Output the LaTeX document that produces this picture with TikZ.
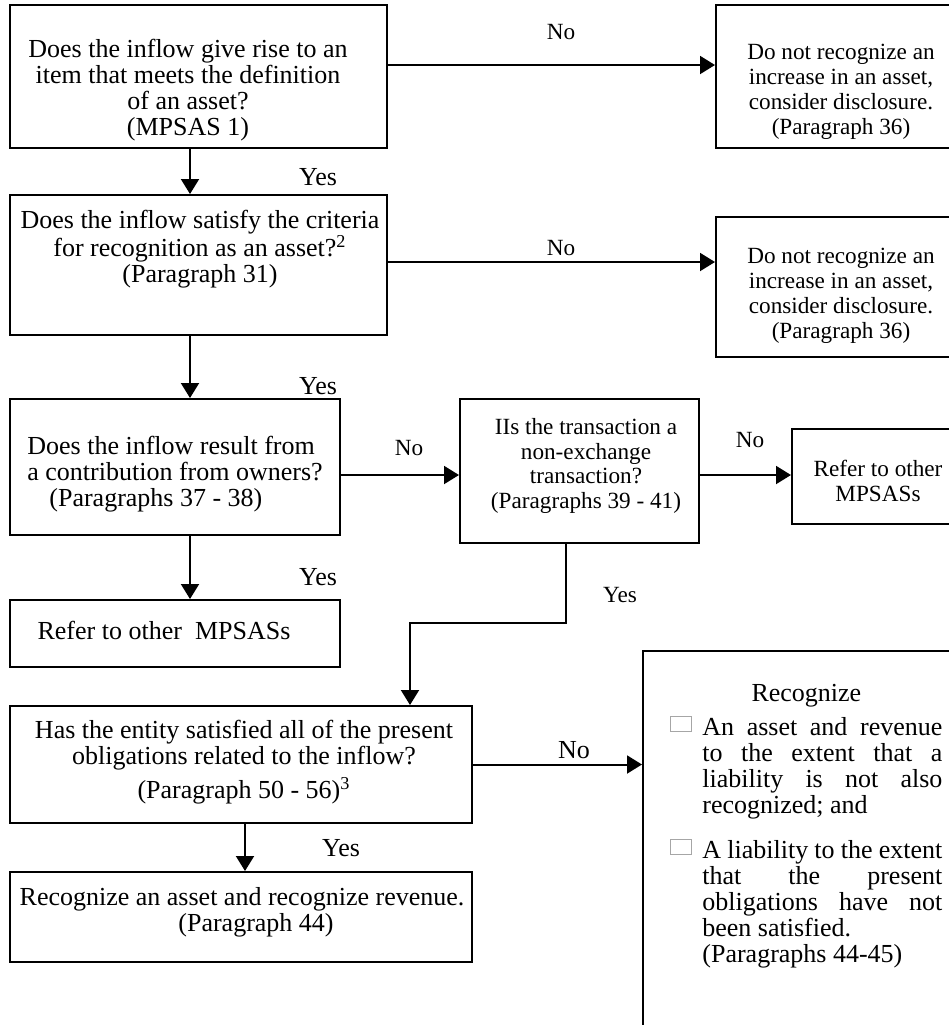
\documentclass[tikz,border=0pt]{standalone}
\usepackage{fontspec}
\setmainfont{Liberation Serif}
\usetikzlibrary{arrows.meta}

\newcommand{\bigtxt}{\fontsize{13}{13}\selectfont}
\newcommand{\smtxt}{\fontsize{11.6}{12.4}\selectfont}
\newcommand{\chkbox}{\raisebox{2.5pt}{\textcolor{gray!70}{\setlength{\fboxrule}{0.5pt}\setlength{\fboxsep}{0pt}\fbox{\rule{0pt}{7pt}\hspace{10pt}}}}}

\tikzset{
  box/.style={draw, rectangle, line width=1pt, inner sep=0pt},
  txt/.style={inner sep=0pt, align=center, font=\bigtxt},
  txts/.style={inner sep=0pt, align=center, font=\smtxt},
  lbl/.style={inner sep=0pt, font=\bigtxt},
  lbls/.style={inner sep=0pt, font=\smtxt},
  flow/.style={->, line width=1pt, >={Triangle[length=7.5pt,width=9pt]}}
}

\begin{document}
\begin{tikzpicture}[x=0.5pt, y=-0.5pt]
\useasboundingbox (0,0) rectangle (949,1025);
\clip (0,0) rectangle (949,1025);

% question boxes
\node[box, minimum width=188.5pt, minimum height=71.5pt] (qA) at (198.5,76.5) {};
\node[box, minimum width=188.5pt, minimum height=70pt] (qB) at (198.5,265) {};
\node[box, minimum width=165pt, minimum height=68pt] (qC) at (175,467) {};
\node[box, minimum width=119.5pt, minimum height=72pt] (qD) at (579.5,471) {};
\node[box, minimum width=165pt, minimum height=33.5pt] (qF) at (175,633.5) {};
\node[box, minimum width=231pt, minimum height=58.5pt] (qG) at (241,764.5) {};
\node[box, minimum width=231pt, minimum height=45pt] (qH) at (241,917) {};
% result boxes on the right
\node[box, minimum width=119.5pt, minimum height=71.5pt] (rA) at (835.5,76.5) {};
\node[box, minimum width=119.5pt, minimum height=70pt] (rB) at (835.5,287) {};
\node[box, minimum width=81.5pt, minimum height=47.5pt] (rE) at (873.5,476.5) {};
\node[box, minimum width=158.5pt, minimum height=194.5pt] (rRec) at (801.5,845.5) {};

% texts
\node[txt] (qA-t) at (188,90) {Does the inflow give rise to an\\ item that meets the definition\\ of an asset?\\ (MPSAS 1)};
\node[txt] (qB-t) at (200,249) {Does the inflow satisfy the criteria\\ for recognition as an asset?\textsuperscript{2}\\ (Paragraph 31)};
\node[txt, anchor=west, align=left] (qC-t) at (27,474) {Does the inflow result from\\ a contribution from owners?\\ \hspace*{11pt}(Paragraphs 37 - 38)};
\node[txts] (qD-t) at (586,466) {IIs the transaction a\\ non-exchange\\ transaction?\\ (Paragraphs 39 - 41)};
\node[txt] (qF-t) at (164,630) {Refer to other\ \ MPSASs};
\node[txt] (qG-t) at (244,762) {Has the entity satisfied all of the present\\ obligations related to the inflow?\\[3pt] (Paragraph 50 - 56)\textsuperscript{3}};
\node[txt] (qH-t) at (242,912) {Recognize an asset and recognize revenue.\\ \hspace*{14pt}(Paragraph 44)};
\node[txts] (rA-t) at (841,92) {Do not recognize an\\ increase in an asset,\\ consider disclosure.\\ (Paragraph 36)};
\node[txts] (rB-t) at (841,296) {Do not recognize an\\ increase in an asset,\\ consider disclosure.\\ (Paragraph 36)};
\node[txts] (rE-t) at (878,481) {Refer to other\\ MPSASs};
\node[txt, anchor=north west, text width=136pt, align=justify] (rRec-t) at (670,684) {%
  {\centering Recognize\par}\vspace{4pt}
  \tolerance=10000\hbadness=10000
  \noindent\hangindent=16pt\hangafter=1\makebox[16pt][l]{\chkbox}An asset and revenue\linebreak to the extent that a\linebreak liability is not also\linebreak recognized; and\par
  \vspace{9.5pt}
  \noindent\hangindent=16pt\hangafter=1\makebox[16pt][l]{\chkbox}A liability to the extent\linebreak that the present\linebreak obligations have not\linebreak been satisfied.\newline (Paragraphs 44-45)\par};

% connectors
\coordinate (colL) at (190,0);
\coordinate (bendD) at (410,623);
\draw[flow] (qA.south -| colL) -- (qB.north -| colL);
\draw[flow] ([yshift=5.75pt]qA.east) -- ([yshift=5.75pt]rA.west);
\draw[flow] ([yshift=1.5pt]qB.east) -- ([yshift=1.5pt]qB.east -| rB.west);
\draw[flow] (qB.south -| colL) -- (qC.north -| colL);
\draw[flow] ([yshift=-2pt]qD.west -| qC.east) -- ([yshift=-2pt]qD.west);
\draw[flow] ([yshift=-2pt]qD.east) -- ([yshift=-2pt]qD.east -| rE.west);
\draw[flow] (qC.south -| colL) -- (qF.north -| colL);
\draw[flow] ([xshift=-6.75pt]qD.south) |- (bendD) -- (bendD |- qG.north);
\draw[flow] (qG.east) -- (qG.east -| rRec.west);
\draw[flow] ([xshift=2pt]qG.south) -- ([xshift=2pt]qH.north);

% labels
\node[lbls] (noA) at (561,32) {No};
\node[lbl] (yesA) at (318,177) {Yes};
\node[lbls] (noB) at (561,248) {No};
\node[lbl] (yesB) at (318,386) {Yes};
\node[lbls] (noC) at (409,448) {No};
\node[lbls] (noD) at (750,440) {No};
\node[lbl] (yesC) at (318,577) {Yes};
\node[lbls] (yesD) at (620,595) {Yes};
\node[lbl] (noG) at (574,750) {No};
\node[lbl] (yesG) at (341,848) {Yes};
\end{tikzpicture}
\end{document}
